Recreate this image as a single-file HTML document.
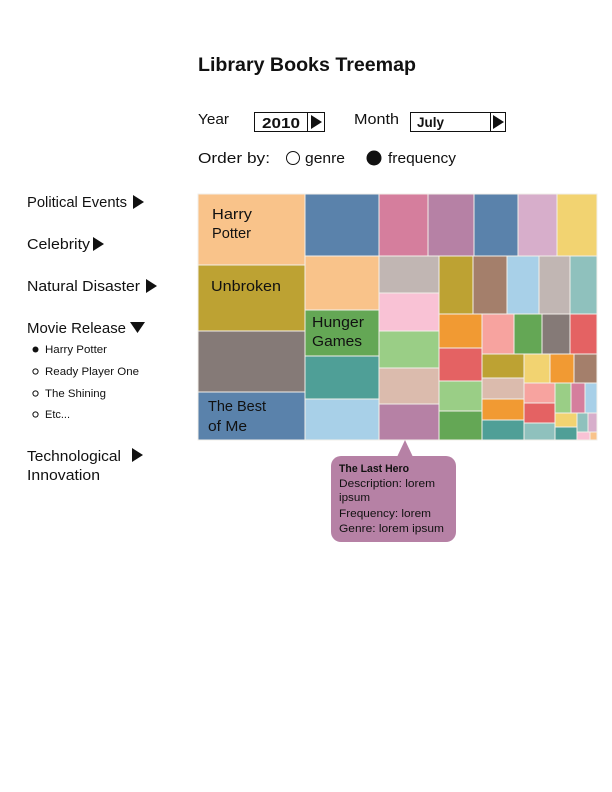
<!DOCTYPE html>
<html><head><meta charset="utf-8"><style>
html,body{margin:0;padding:0;background:#fff}
svg{display:block}
text{font-family:"Liberation Sans",sans-serif;fill:#111}
</style></head><body>
<svg width="612" height="792" viewBox="0 0 612 792" xmlns="http://www.w3.org/2000/svg">
<text x="198" y="71" font-size="19" font-weight="bold" textLength="218" lengthAdjust="spacingAndGlyphs">Library Books Treemap</text>
<text x="198" y="124" font-size="15" textLength="31" lengthAdjust="spacingAndGlyphs">Year</text>
<rect x="254.5" y="112.5" width="70" height="19" fill="#fff" stroke="#111"/>
<line x1="307.5" y1="112" x2="307.5" y2="132" stroke="#111"/>
<text x="262" y="128" font-size="15" font-weight="bold" textLength="38" lengthAdjust="spacingAndGlyphs">2010</text>
<polygon points="311,115 311,129 322,122" fill="#111"/>
<text x="354" y="124" font-size="15" textLength="45" lengthAdjust="spacingAndGlyphs">Month</text>
<rect x="410.5" y="112.5" width="95" height="19" fill="#fff" stroke="#111"/>
<line x1="490.5" y1="112" x2="490.5" y2="132" stroke="#111"/>
<text x="417" y="127" font-size="14" font-weight="bold" textLength="27" lengthAdjust="spacingAndGlyphs">July</text>
<polygon points="493,115 493,129 504,122" fill="#111"/>
<text x="198" y="163" font-size="15" textLength="72" lengthAdjust="spacingAndGlyphs">Order by:</text>
<circle cx="293" cy="158" r="6.5" fill="none" stroke="#111"/>
<text x="305" y="163" font-size="15" textLength="40" lengthAdjust="spacingAndGlyphs">genre</text>
<circle cx="374" cy="158" r="7.5" fill="#111"/>
<text x="388" y="163" font-size="15" textLength="68" lengthAdjust="spacingAndGlyphs">frequency</text>

<g font-size="15" lengthAdjust="spacingAndGlyphs">
<text x="27" y="207" textLength="100" lengthAdjust="spacingAndGlyphs">Political Events</text><polygon points="133,195 133,209 144,202" fill="#111"/>
<text x="27" y="249" textLength="63" lengthAdjust="spacingAndGlyphs">Celebrity</text><polygon points="93,237 93,251 104,244" fill="#111"/>
<text x="27" y="291" textLength="113" lengthAdjust="spacingAndGlyphs">Natural Disaster</text><polygon points="146,279 146,293 157,286" fill="#111"/>
<text x="27" y="333" textLength="99" lengthAdjust="spacingAndGlyphs">Movie Release</text><polygon points="130,322 145,322 137.5,333" fill="#111"/>
<text x="27" y="461" textLength="94" lengthAdjust="spacingAndGlyphs">Technological</text><polygon points="132,448 132,462 143,455" fill="#111"/>
<text x="27" y="480" textLength="73" lengthAdjust="spacingAndGlyphs">Innovation</text>
</g>
<g font-size="11">
<circle cx="35.5" cy="349.5" r="3" fill="#111"/><text x="45" y="353" textLength="62" lengthAdjust="spacingAndGlyphs">Harry Potter</text>
<circle cx="35.5" cy="371.5" r="2.6" fill="none" stroke="#111"/><text x="45" y="375" textLength="94" lengthAdjust="spacingAndGlyphs">Ready Player One</text>
<circle cx="35.5" cy="393.5" r="2.6" fill="none" stroke="#111"/><text x="45" y="397" textLength="61" lengthAdjust="spacingAndGlyphs">The Shining</text>
<circle cx="35.5" cy="414.5" r="2.6" fill="none" stroke="#111"/><text x="45" y="418" textLength="25" lengthAdjust="spacingAndGlyphs">Etc...</text>
</g>

<g stroke="#f2efe9" stroke-width="1">
<rect x="198" y="194" width="107" height="71" fill="#f9c38a"/>
<rect x="198" y="265" width="107" height="66" fill="#bda233"/>
<rect x="198" y="331" width="107" height="61" fill="#857a77"/>
<rect x="198" y="392" width="107" height="48" fill="#5a82ab"/>
<rect x="305" y="194" width="74" height="62" fill="#5a82ab"/>
<rect x="305" y="256" width="74" height="54" fill="#f9c38a"/>
<rect x="305" y="310" width="74" height="46" fill="#64a755"/>
<rect x="305" y="356" width="74" height="43" fill="#4f9f97"/>
<rect x="305" y="399" width="74" height="41" fill="#a8d0e8"/>
<rect x="379" y="194" width="49" height="62" fill="#d57e9d"/>
<rect x="428" y="194" width="46" height="62" fill="#b681a5"/>
<rect x="474" y="194" width="44" height="62" fill="#5a82ab"/>
<rect x="518" y="194" width="39" height="62" fill="#d7aecb"/>
<rect x="557" y="194" width="40" height="62" fill="#f2d371"/>
<rect x="379" y="256" width="60" height="37" fill="#c1b6b3"/>
<rect x="379" y="293" width="60" height="38" fill="#f9c2d5"/>
<rect x="379" y="331" width="60" height="37" fill="#9ace86"/>
<rect x="379" y="368" width="60" height="36" fill="#dbbbad"/>
<rect x="379" y="404" width="60" height="36" fill="#b681a5"/>
<rect x="439" y="256" width="34" height="58" fill="#bda233"/>
<rect x="473" y="256" width="34" height="58" fill="#a47f6b"/>
<rect x="507" y="256" width="32" height="58" fill="#a8d0e8"/>
<rect x="539" y="256" width="31" height="58" fill="#c1b6b3"/>
<rect x="570" y="256" width="27" height="58" fill="#8fc1bd"/>
<rect x="439" y="314" width="43" height="34" fill="#f19a33"/>
<rect x="439" y="348" width="43" height="33" fill="#e46263"/>
<rect x="439" y="381" width="43" height="30" fill="#9ace86"/>
<rect x="439" y="411" width="43" height="29" fill="#64a755"/>
<rect x="482" y="314" width="32" height="40" fill="#f7a39f"/>
<rect x="514" y="314" width="28" height="40" fill="#64a755"/>
<rect x="542" y="314" width="28" height="40" fill="#857a77"/>
<rect x="570" y="314" width="27" height="40" fill="#e46263"/>
<rect x="482" y="354" width="42" height="24" fill="#bda233"/>
<rect x="482" y="378" width="42" height="21" fill="#dbbbad"/>
<rect x="482" y="399" width="42" height="21" fill="#f19a33"/>
<rect x="482" y="420" width="42" height="20" fill="#4f9f97"/>
<rect x="524" y="354" width="26" height="29" fill="#f2d371"/>
<rect x="550" y="354" width="24" height="29" fill="#f19a33"/>
<rect x="574" y="354" width="23" height="29" fill="#a47f6b"/>
<rect x="524" y="383" width="31" height="20" fill="#f7a39f"/>
<rect x="524" y="403" width="31" height="20" fill="#e46263"/>
<rect x="524" y="423" width="31" height="17" fill="#8fc1bd"/>
<rect x="555" y="383" width="16" height="30" fill="#9ace86"/>
<rect x="571" y="383" width="14" height="30" fill="#d57e9d"/>
<rect x="585" y="383" width="12" height="30" fill="#a8d0e8"/>
<rect x="555" y="413" width="22" height="14" fill="#f2d371"/>
<rect x="555" y="427" width="22" height="13" fill="#4f9f97"/>
<rect x="577" y="413" width="11" height="19" fill="#8fc1bd"/>
<rect x="588" y="413" width="9" height="19" fill="#d7aecb"/>
<rect x="577" y="432" width="13" height="8" fill="#f9c2d5"/>
<rect x="590" y="432" width="7" height="8" fill="#f9c38a"/>
</g>
<g font-size="15">
<text x="212" y="219" textLength="40" lengthAdjust="spacingAndGlyphs">Harry</text><text x="212" y="238" textLength="39" lengthAdjust="spacingAndGlyphs">Potter</text>
<text x="211" y="291" textLength="70" lengthAdjust="spacingAndGlyphs">Unbroken</text>
<text x="312" y="327" textLength="52" lengthAdjust="spacingAndGlyphs">Hunger</text><text x="312" y="346" textLength="50" lengthAdjust="spacingAndGlyphs">Games</text>
<text x="208" y="411" textLength="58" lengthAdjust="spacingAndGlyphs">The Best</text><text x="208" y="431" textLength="39" lengthAdjust="spacingAndGlyphs">of Me</text>
</g>
<polygon points="397,457 405,440 413,457" fill="#b681a5"/>
<rect x="331" y="456" width="125" height="86" rx="10" fill="#b681a5"/>
<g font-size="11">
<text x="339" y="472" font-weight="bold" textLength="70" lengthAdjust="spacingAndGlyphs">The Last Hero</text>
<text x="339" y="487" textLength="96" lengthAdjust="spacingAndGlyphs">Description: lorem</text>
<text x="339" y="501" textLength="31" lengthAdjust="spacingAndGlyphs">ipsum</text>
<text x="339" y="517" textLength="92" lengthAdjust="spacingAndGlyphs">Frequency: lorem</text>
<text x="339" y="532" textLength="105" lengthAdjust="spacingAndGlyphs">Genre: lorem ipsum</text>
</g>
</svg>
</body></html>
